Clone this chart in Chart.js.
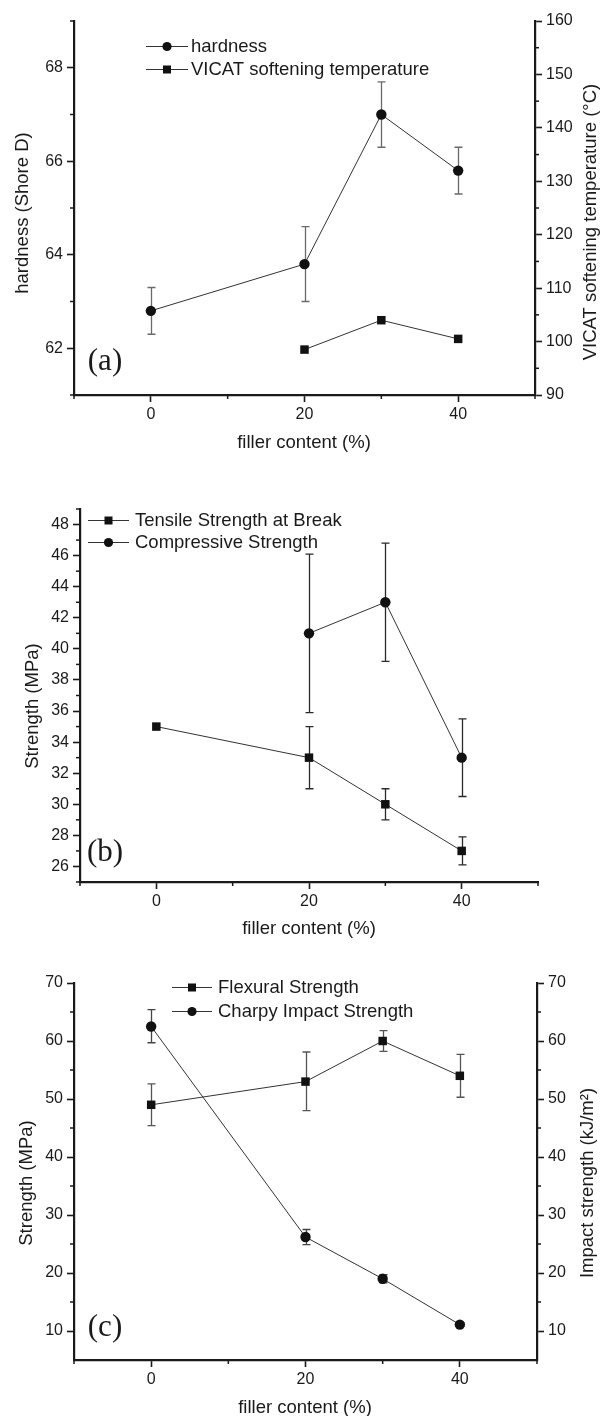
<!DOCTYPE html>
<html><head><meta charset="utf-8">
<script src="https://cdn.jsdelivr.net/npm/chart.js@4.4.0/dist/chart.umd.min.js"></script>
<style>
html,body{margin:0;padding:0;background:#fff;}
body{width:600px;height:1416px;position:relative;overflow:hidden;}
.panel{position:absolute;left:0;width:600px;}
canvas{display:block;}
</style></head><body>
<div class="panel" style="top:0;height:460px"><canvas id="ca" width="600" height="460"></canvas></div>
<div class="panel" style="top:470px;height:480px"><canvas id="cb" width="600" height="480"></canvas></div>
<div class="panel" style="top:960px;height:456px"><canvas id="cc" width="600" height="456"></canvas></div>
<script>
// ---------- DATA ----------
// Panel (a)
const hardnessX = [0, 20, 30, 40];
const hardness = [62.8, 63.8, 67.0, 65.8];
const hardnessLow = [62.3, 63.0, 66.3, 65.3];
const hardnessHigh = [63.3, 64.6, 67.7, 66.3];
const vicatX = [20, 30, 40];
const vicat = [98.5, 104.0, 100.5];
// Panel (b)
const tensileX = [0, 20, 30, 40];
const tensile = [35, 33, 30, 27];
const tensileLow = [null, 31, 29, 26.1];
const tensileHigh = [null, 35, 31, 27.9];
const compressiveX = [20, 30, 40];
const compressive = [41, 43, 33];
const compressiveLow = [35.9, 39.2, 30.5];
const compressiveHigh = [46.1, 46.8, 35.5];
// Panel (c)
const flexuralX = [0, 20, 30, 40];
const flexural = [49, 53, 60, 54];
const flexuralLow = [45.4, 48.0, 58.2, 50.3];
const flexuralHigh = [52.6, 58.1, 61.8, 57.7];
const charpyX = [0, 20, 30, 40];
const charpy = [62.5, 26.2, 19.0, 11.1];
const charpyLow = [59.7, 24.9, 18.3, 10.8];
const charpyHigh = [65.4, 27.5, 19.7, 11.4];
// Tick labels
const xMajorTicks = [0, 20, 40];
const xMinorTicks = [-10, 10, 30, 50];
const aLeftTicks = [62, 64, 66, 68];
const aLeftMinor = [61, 63, 65, 67, 69];
const aRightTicks = [90, 100, 110, 120, 130, 140, 150, 160];
const aRightMinor = [95, 105, 115, 125, 135, 145, 155];
const bTicks = [26, 28, 30, 32, 34, 36, 38, 40, 42, 44, 46, 48];
const bMinor = [25, 27, 29, 31, 33, 35, 37, 39, 41, 43, 45, 47, 49];
const cTicks = [10, 20, 30, 40, 50, 60, 70];
const cMinor = [15, 25, 35, 45, 55, 65];

// ---------- STYLE / HELPERS ----------
const FONT = '"Liberation Sans", Arial, Helvetica, sans-serif';
const SERIF = '"Liberation Serif", "Times New Roman", serif';
const INK = '#1a1a1a';
const LINE = '#333333';
const toXY = (xs, ys) => xs.map((x, i) => ({x: x, y: ys[i]}));

const errorBarsPlugin = {
  id: 'errorBars',
  beforeDatasetsDraw(chart) {
    const ctx = chart.ctx;
    chart.data.datasets.forEach((ds, i) => {
      if (!ds.errLow) return;
      const meta = chart.getDatasetMeta(i);
      const xs = chart.scales[meta.xAxisID], ys = chart.scales[meta.yAxisID];
      ctx.save();
      ctx.strokeStyle = ds.errColor || LINE;
      ctx.lineWidth = 1.3;
      ds.data.forEach((p, j) => {
        const lo = ds.errLow[j], hi = ds.errHigh[j];
        if (lo == null || hi == null) return;
        const x = Math.round(xs.getPixelForValue(p.x)) + 0.5;
        const y1 = ys.getPixelForValue(lo), y2 = ys.getPixelForValue(hi);
        ctx.beginPath();
        ctx.moveTo(x, y1); ctx.lineTo(x, y2);
        ctx.moveTo(x - 4, y1); ctx.lineTo(x + 4, y1);
        ctx.moveTo(x - 4, y2); ctx.lineTo(x + 4, y2);
        ctx.stroke();
      });
      ctx.restore();
    });
  }
};

function minorTicks(map, len) {
  return {
    id: 'minorTicks',
    afterDraw(chart) {
      const ctx = chart.ctx, a = chart.chartArea;
      ctx.save(); ctx.strokeStyle = INK; ctx.lineWidth = 1.5;
      Object.keys(map).forEach(id => {
        const s = chart.scales[id];
        map[id].forEach(v => {
          const p = s.getPixelForValue(v);
          ctx.beginPath();
          if (s.position === 'bottom') { ctx.moveTo(p, a.bottom); ctx.lineTo(p, a.bottom + len); }
          else if (s.position === 'left') { ctx.moveTo(a.left, p); ctx.lineTo(a.left - len, p); }
          else { ctx.moveTo(a.right, p); ctx.lineTo(a.right + len, p); }
          ctx.stroke();
        });
      });
      ctx.restore();
    }
  };
}

function inlineLegend(o) {
  return {
    id: 'inlineLegend',
    afterDraw(chart) {
      const ctx = chart.ctx;
      ctx.save();
      chart.data.datasets.forEach((ds, i) => {
        const y = o.y + i * o.rowH;
        ctx.strokeStyle = LINE; ctx.lineWidth = 1;
        ctx.beginPath(); ctx.moveTo(o.x, y + 0.5); ctx.lineTo(o.x + o.lineLen, y + 0.5); ctx.stroke();
        const cx = o.x + o.lineLen / 2;
        ctx.fillStyle = '#111';
        if (ds.pointStyle === 'rect') ctx.fillRect(cx - 4, y - 3.5, 8, 8);
        else { ctx.beginPath(); ctx.arc(cx, y + 0.5, 4.6, 0, Math.PI * 2); ctx.fill(); }
        ctx.fillStyle = INK; ctx.font = '18.5px ' + FONT;
        ctx.textBaseline = 'middle'; ctx.textAlign = 'left';
        ctx.fillText(ds.label, o.textX, y + 1);
      });
      ctx.restore();
    }
  };
}

function texts(items) {
  return {
    id: 'texts',
    afterDraw(chart) {
      const ctx = chart.ctx;
      items.forEach(t => {
        ctx.save(); ctx.translate(t.x, t.y); ctx.rotate((t.rot || 0) * Math.PI / 180);
        ctx.font = t.font; ctx.fillStyle = INK; ctx.textAlign = 'center'; ctx.textBaseline = 'middle';
        ctx.fillText(t.text, 0, 0); ctx.restore();
      });
    }
  };
}

function axis(pos, min, max, ticks, size) {
  const horiz = pos === 'bottom';
  return {
    type: 'linear', position: pos, min: min, max: max,
    afterBuildTicks: s => { s.ticks = ticks.map(v => ({value: v})); },
    afterFit: s => { if (horiz) s.height = size; else s.width = size; },
    grid: { drawOnChartArea: false, drawTicks: true, tickLength: 7, tickWidth: 1.6, tickColor: INK },
    border: { display: true, color: INK, width: 2.2 },
    ticks: { color: INK, font: { family: FONT, size: 16 }, padding: horiz ? 3 : 4, maxRotation: 0, autoSkip: false }
  };
}

function lineDs(label, xs, ys, style, axisId, lo, hi, errColor) {
  return {
    label: label, data: toXY(xs, ys), yAxisID: axisId,
    borderColor: LINE, borderWidth: 1, pointStyle: style,
    pointRadius: style === 'rect' ? 6 : 5.2,
    pointBackgroundColor: '#111', pointBorderColor: '#111', pointBorderWidth: 0,
    errLow: lo, errHigh: hi, errColor: errColor, tension: 0
  };
}

const common = {
  responsive: false, animation: false, events: [],
  plugins: { legend: { display: false }, tooltip: { enabled: false } }
};

// ---------- PANEL (a) ----------
new Chart(document.getElementById('ca'), {
  type: 'line',
  data: { datasets: [
    lineDs('hardness', hardnessX, hardness, 'circle', 'y', hardnessLow, hardnessHigh, '#6a6a6a'),
    lineDs('VICAT softening temperature', vicatX, vicat, 'rect', 'y2', null, null)
  ]},
  options: Object.assign({}, common, {
    layout: { padding: { top: 21, left: 0, right: 0, bottom: 0 } },
    scales: {
      x: axis('bottom', -10, 50, xMajorTicks, 65),
      y: axis('left', 61, 69, aLeftTicks, 74),
      y2: axis('right', 90, 160, aRightTicks, 65)
    }
  }),
  plugins: [errorBarsPlugin,
    minorTicks({x: xMinorTicks, y: aLeftMinor, y2: aRightMinor}, 4),
    inlineLegend({x: 146, y: 46, rowH: 23, lineLen: 42, textX: 191}),
    texts([
      {text: '(a)', x: 105, y: 362, font: '31px ' + SERIF},
      {text: 'filler content (%)', x: 304, y: 443, font: '18.5px ' + FONT},
      {text: 'hardness (Shore D)', x: 23, y: 213, rot: -90, font: '18.5px ' + FONT},
      {text: 'VICAT softening temperature (\u00B0C)', x: 591, y: 222, rot: -90, font: '18.5px ' + FONT}
    ])]
});

// ---------- PANEL (b) ----------
new Chart(document.getElementById('cb'), {
  type: 'line',
  data: { datasets: [
    lineDs('Tensile Strength at Break', tensileX, tensile, 'rect', 'y', tensileLow, tensileHigh, '#2a2a2a'),
    lineDs('Compressive Strength', compressiveX, compressive, 'circle', 'y', compressiveLow, compressiveHigh, '#2a2a2a')
  ]},
  options: Object.assign({}, common, {
    layout: { padding: { top: 39, left: 0, right: 62, bottom: 0 } },
    scales: {
      x: axis('bottom', -10, 50, xMajorTicks, 68),
      y: axis('left', 25, 49, bTicks, 80)
    }
  }),
  plugins: [errorBarsPlugin,
    minorTicks({x: xMinorTicks, y: bMinor}, 4),
    inlineLegend({x: 88, y: 50, rowH: 22, lineLen: 41, textX: 135}),
    texts([
      {text: '(b)', x: 105, y: 383, font: '31px ' + SERIF},
      {text: 'filler content (%)', x: 309, y: 459, font: '18.5px ' + FONT},
      {text: 'Strength (MPa)', x: 33, y: 236, rot: -90, font: '18.5px ' + FONT}
    ])]
});

// ---------- PANEL (c) ----------
new Chart(document.getElementById('cc'), {
  type: 'line',
  data: { datasets: [
    lineDs('Flexural Strength', flexuralX, flexural, 'rect', 'y', flexuralLow, flexuralHigh, '#555'),
    lineDs('Charpy Impact Strength', charpyX, charpy, 'circle', 'y2', charpyLow, charpyHigh, '#444')
  ]},
  options: Object.assign({}, common, {
    layout: { padding: { top: 23, left: 0, right: 0, bottom: 0 } },
    scales: {
      x: axis('bottom', -10, 50, xMajorTicks, 56),
      y: axis('left', 5, 70, cTicks, 74),
      y2: axis('right', 5, 70, cTicks, 63)
    }
  }),
  plugins: [errorBarsPlugin,
    minorTicks({x: xMinorTicks, y: cMinor, y2: cMinor}, 4),
    inlineLegend({x: 172, y: 27, rowH: 24, lineLen: 40, textX: 218}),
    texts([
      {text: '(c)', x: 105, y: 368, font: '31px ' + SERIF},
      {text: 'filler content (%)', x: 305, y: 448, font: '18.5px ' + FONT},
      {text: 'Strength (MPa)', x: 27, y: 223, rot: -90, font: '18.5px ' + FONT},
      {text: 'Impact strength (kJ/m\u00B2)', x: 588, y: 223, rot: -90, font: '18.5px ' + FONT}
    ])]
});
</script>
</body></html>
